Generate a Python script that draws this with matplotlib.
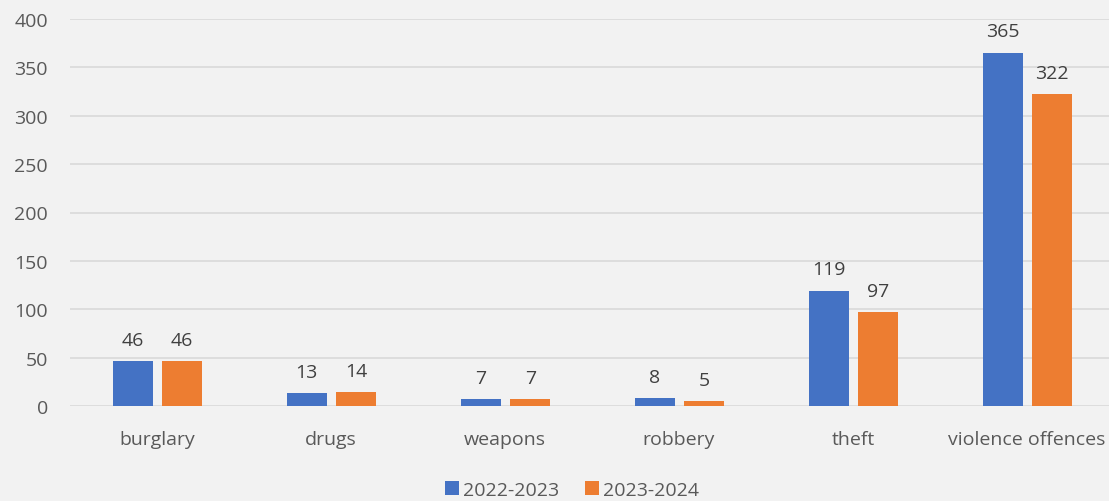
import numpy as np
import matplotlib.pyplot as plt

# data
categories = ['burglary', 'drugs', 'weapons', 'robbery', 'theft', 'violence offences']
y2022 = [46, 13, 7, 8, 119, 365]
y2023 = [46, 14, 7, 5, 97, 322]
series_names = ['2022-2023', '2023-2024']

plt.rcParams['font.family'] = ['Open Sans', 'DejaVu Sans']
fs = 14

fig = plt.figure(figsize=(11.09, 5.02), dpi=100, facecolor='#F2F2F2')
ax = fig.add_axes([70 / 1109, 1 - 407 / 502, 1044 / 1109, 387 / 502])
ax.set_facecolor('#F2F2F2')

x = np.arange(len(categories))
w = 0.23
b1 = ax.bar(x - 0.140, y2022, w, color='#4472C4', label=series_names[0], zorder=3)
b2 = ax.bar(x + 0.145, y2023, w, color='#ED7D31', label=series_names[1], zorder=3)

for bars in (b1, b2):
    for rect in bars:
        h = rect.get_height()
        ax.text(rect.get_x() + rect.get_width() / 2, h + 13, str(int(h)),
                ha='center', va='bottom', fontsize=fs, color='#404040')

ax.set_xlim(-0.5, len(categories) - 0.5)
ax.set_ylim(0, 400)
ax.set_yticks(range(0, 401, 50))
ax.grid(axis='y', color='#D9D9D9', linewidth=1.2, zorder=0)
for s in ax.spines.values():
    s.set_visible(False)
ax.tick_params(axis='both', length=0, labelsize=fs, labelcolor='#595959')
ax.tick_params(axis='y', pad=16)
ax.tick_params(axis='x', pad=17)
ax.set_xticks(x)
ax.set_xticklabels(categories)

fig.legend(loc='center', bbox_to_anchor=(572 / 1109, 1 - 491 / 502), ncol=2, frameon=False,
           fontsize=fs, labelcolor='#595959', handlelength=0.75, handleheight=0.75,
           handletextpad=0.2, columnspacing=1.3)

fig.savefig('out.png', dpi=100, facecolor='#F2F2F2')
